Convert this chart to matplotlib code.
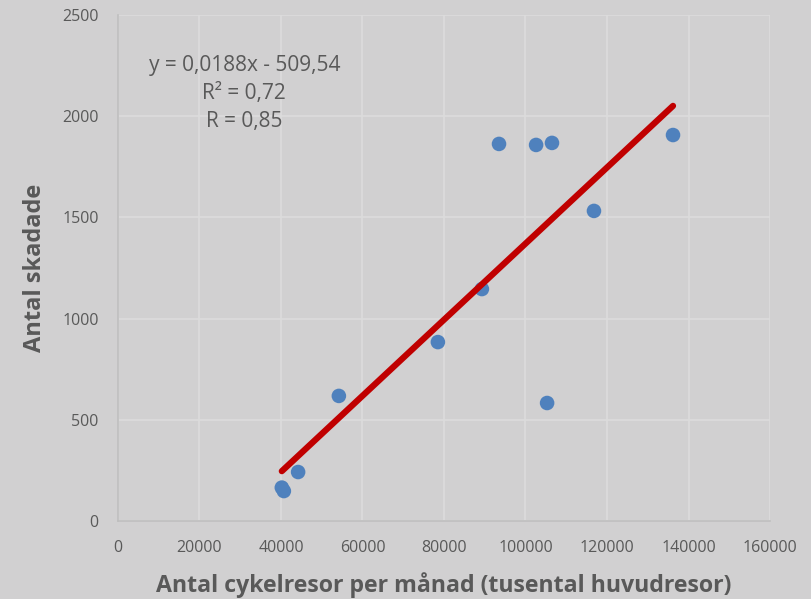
import numpy as np
import matplotlib.pyplot as plt

# cykelresor per månad (tusental) och antal skadade
trips = [40200, 40700, 44200, 54200, 78500, 89300, 93500, 102600, 106500, 105300, 116800, 136200]
injured = [165, 148, 242, 618, 884, 1146, 1863, 1858, 1868, 583, 1532, 1907]

slope = 0.0188
intercept = -509.54
eq_lines = ["y = 0,0188x - 509,54", "R² = 0,72", "R = 0,85"]

xticks = [0, 20000, 40000, 60000, 80000, 100000, 120000, 140000, 160000]
yticks = [0, 500, 1000, 1500, 2000, 2500]

bg = '#d1d0d1'
txt = '#595959'

plt.rcParams['font.family'] = ['Open Sans', 'DejaVu Sans']

fig = plt.figure(figsize=(8.12, 5.99), dpi=100, facecolor=bg)
ax = fig.add_axes([118 / 812, 78 / 599, 652 / 812, 506 / 599])
ax.set_facecolor(bg)

ax.set_xlim(0, 160000)
ax.set_ylim(0, 2500)
ax.set_xticks(xticks)
ax.set_yticks(yticks)
ax.grid(True, color='#dcdcdc', linewidth=1.2)
ax.set_axisbelow(True)
for s in ['top', 'right']:
    ax.spines[s].set_visible(False)
for s in ['left', 'bottom']:
    ax.spines[s].set_color('#bfbfbf')
    ax.spines[s].set_linewidth(1.2)
ax.tick_params(length=0, labelsize=11.5, colors=txt, pad=14)

ax.scatter(trips, injured, s=110, color='#4f81bd', zorder=3, edgecolors='none')

xfit = np.array([min(trips), max(trips)])
ax.plot(xfit, slope * xfit + intercept, color='#c00000', linewidth=4.5,
        solid_capstyle='round', zorder=4)

for i, line in enumerate(eq_lines):
    ax.text(31000, 2250 - i * 138, line, ha='center', va='center',
            fontsize=15, color=txt)

ax.set_xlabel('Antal cykelresor per månad (tusental huvudresor)',
              fontsize=16.7, fontweight='bold', color=txt, labelpad=11)
ax.set_ylabel('Antal skadade', fontsize=17, fontweight='bold', color=txt,
              labelpad=11)

fig.savefig('out.png', dpi=100, facecolor=bg)
